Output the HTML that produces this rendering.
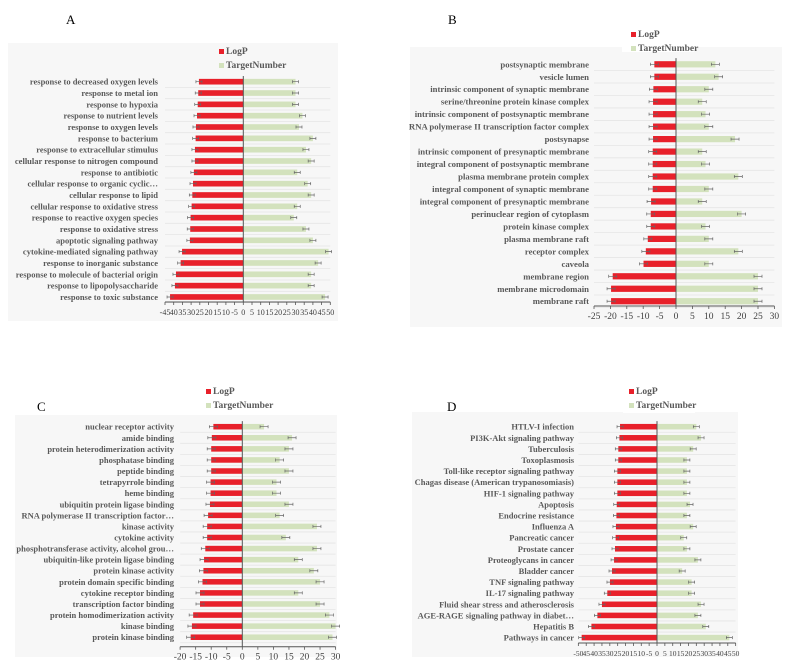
<!DOCTYPE html>
<html><head><meta charset="utf-8">
<style>
html,body{margin:0;padding:0;background:#fff;}
svg{display:block;font-family:"Liberation Serif",serif;}
</style></head>
<body>
<svg id="fig" width="789" height="670" viewBox="0 0 789 670" xmlns="http://www.w3.org/2000/svg"></svg>
<script>
const catsA=["response to decreased oxygen levels","response to metal ion","response to hypoxia","response to nutrient levels","response to oxygen levels","response to bacterium","response to extracellular stimulus","cellular response to nitrogen compound","response to antibiotic","cellular response to organic cyclic…","cellular response to lipid","cellular response to oxidative stress","response to reactive oxygen species","response to oxidative stress","apoptotic signaling pathway","cytokine-mediated signaling pathway","response to inorganic substance","response to molecule of bacterial origin","response to lipopolysaccharide","response to toxic substance"];
const logpA=[-25.5,-25.9,-26.2,-26.6,-27.2,-27.4,-27.8,-27.8,-28.4,-28.9,-29.3,-29.7,-30.3,-30.5,-30.7,-35.2,-36.0,-38.7,-39.3,-42.1];
const targetA=[30,30,30,34,32,40,36,39,31,37,39,31,29,36,40,49,43,39,39,47];
const ticksA=[-45,-40,-35,-30,-25,-20,-15,-10,-5,0,5,10,15,20,25,30,35,40,45,50];
const tickLabelsA=["-45","40","35","30","25","20","15","10","-5","0","5","10","15","20","25","30","35","40","45","50"];

const catsB=["postsynaptic membrane","vesicle lumen","intrinsic component of synaptic membrane","serine/threonine protein kinase complex","intrinsic component of postsynaptic membrane","RNA polymerase II transcription factor complex","postsynapse","intrinsic component of presynaptic membrane","integral component of postsynaptic membrane","plasma membrane protein complex","integral component of synaptic membrane","integral component of presynaptic membrane","perinuclear region of cytoplasm","protein kinase complex","plasma membrane raft","receptor complex","caveola","membrane region","membrane microdomain","membrane raft"];
const logpB=[-6.6,-6.6,-6.9,-7.0,-7.0,-7.0,-7.0,-7.1,-7.1,-7.1,-7.1,-7.6,-7.7,-7.7,-8.6,-9.2,-9.9,-19.3,-19.8,-19.8];
const targetB=[12,13,10,8,9,10,18,8,9,19,10,8,20,9,10,19,10,25,25,25];
const ticksB=[-25,-20,-15,-10,-5,0,5,10,15,20,25,30];
const tickLabelsB=["-25","-20","-15","-10","-5","0","5","10","15","20","25","30"];

const catsC=["nuclear receptor activity","amide binding","protein heterodimerization activity","phosphatase binding","peptide binding","tetrapyrrole binding","heme binding","ubiquitin protein ligase binding","RNA polymerase II transcription factor…","kinase activity","cytokine activity","phosphotransferase activity, alcohol grou…","ubiquitin-like protein ligase binding","protein kinase activity","protein domain specific binding","cytokine receptor binding","transcription factor binding","protein homodimerization activity","kinase binding","protein kinase binding"];
const logpC=[-9.3,-9.8,-10.0,-10.0,-10.0,-10.2,-10.2,-10.4,-11.0,-11.3,-11.3,-11.9,-12.3,-12.5,-12.8,-13.6,-13.6,-15.8,-16.2,-16.6];
const targetC=[7,16,15,12,15,11,11,15,12,24,14,24,18,23,25,18,25,28,30,29];
const ticksC=[-20,-15,-10,-5,0,5,10,15,20,25,30];
const tickLabelsC=["-20","-15","-10","-5","0","5","10","15","20","25","30"];

const catsD=["HTLV-I infection","PI3K-Akt signaling pathway","Tuberculosis","Toxoplasmosis","Toll-like receptor signaling pathway","Chagas disease (American trypanosomiasis)","HIF-1 signaling pathway","Apoptosis","Endocrine resistance","Influenza A","Pancreatic cancer","Prostate cancer","Proteoglycans in cancer","Bladder cancer","TNF signaling pathway","IL-17 signaling pathway","Fluid shear stress and atherosclerosis","AGE-RAGE signaling pathway in diabet…","Hepatitis B","Pathways in cancer"];
const logpD=[-23.5,-23.9,-24.6,-24.6,-25.2,-25.2,-25.2,-25.6,-25.8,-26.1,-26.3,-26.7,-27.3,-28.6,-29.9,-31.6,-35.0,-37.9,-41.7,-47.9];
const targetD=[25,28,23,19,19,19,19,21,19,23,17,19,26,16,22,22,28,26,31,46];
const ticksD=[-50,-45,-40,-35,-30,-25,-20,-15,-10,-5,0,5,10,15,20,25,30,35,40,45,50];
const tickLabelsD=["-50","45","40","35","30","25","20","15","10","-5","0","5","10","15","20","25","30","35","40","45","50"];

const NS="http://www.w3.org/2000/svg";
const svg=document.getElementById('fig');
function mk(tag,attrs,parent,txt){const e=document.createElementNS(NS,tag);for(const k in attrs)e.setAttribute(k,attrs[k]);if(txt!==undefined)e.textContent=txt;(parent||svg).appendChild(e);return e;}

function panel(o){
  const g=mk('g',{});
  
  
  const bg=mk('rect',{x:o.bg[0],y:o.bg[1],width:o.bg[2],height:o.bg[3],fill:'#f7f7f7'},g);
  
  
  const pl=mk('text',{x:o.letter[0],y:o.letter[1],'font-size':13,fill:'#000'},g,o.id);
  
  
  const x=v=>o.zero+v*o.scale;
  const y=i=>o.row0+i*o.step;
  const xmin=x(o.ticks[0]), xmax=x(o.ticks[o.ticks.length-1]);
  // legend
  const lg=mk('g',{},g);
  
  
  if(o.legBox){mk('rect',{x:o.legBox[0],y:o.legBox[1],width:o.legBox[2],height:o.legBox[3],fill:'#fff'},lg);}
  const l1=mk('rect',{x:o.leg[0],y:o.leg[1]-5,width:5,height:5,fill:'#e8202a'},lg);
  
  
  const t1=mk('text',{x:o.leg[0]+7,y:o.leg[1],'font-size':9.5,'font-weight':'bold',fill:'#595959'},lg,'LogP');
  
  
  const l2=mk('rect',{x:o.leg[0],y:o.leg[1]+9,width:5,height:5,fill:'#d3e2bd'},lg);
  
  
  const t2=mk('text',{x:o.leg[0]+7,y:o.leg[1]+14,'font-size':9.5,'font-weight':'bold',fill:'#595959'},lg,'TargetNumber');
  
  
  const bh=o.step*0.5;
  o.cats.forEach((c,i)=>{
    const yy=y(i);
    mk('line',{x1:xmin,x2:xmax,y1:yy+o.step/2,y2:yy+o.step/2,stroke:'#e6e6e6','stroke-width':0.8},g);
    const lab=mk('text',{x:o.labX,y:yy+3,'text-anchor':'end','font-size':o.fs,'font-weight':'bold',fill:'#595959'},g,c);
    
    
    const r=mk('rect',{x:x(o.logp[i]),y:yy-bh/2,width:x(0)-x(o.logp[i]),height:bh,fill:'#e8202a'},g);
    
    
    const gr=mk('rect',{x:x(0),y:yy-bh/2,width:x(o.target[i])-x(0),height:bh,fill:'#d3e2bd'},g);
    
    
    [x(o.logp[i]),x(o.target[i])].forEach(ex=>{
      const eb=mk('path',{d:`M${ex-o.err},${yy}H${ex+o.err}M${ex-o.err},${yy-1.5}V${yy+1.5}M${ex+o.err},${yy-1.5}V${yy+1.5}`,stroke:'#666','stroke-width':0.7,fill:'none'},g);
      
      
    });
  });
  const za=mk('line',{x1:x(0),x2:x(0),y1:y(0)-o.step/2,y2:o.axisY,stroke:'#555','stroke-width':1},g);
  
  
  const ax=mk('line',{x1:xmin,x2:xmax,y1:o.axisY,y2:o.axisY,stroke:'#555','stroke-width':1},g);
  
  
  o.ticks.forEach((t,k)=>{
    mk('line',{x1:x(t),x2:x(t),y1:o.axisY,y2:o.axisY+3,stroke:'#555','stroke-width':0.8},g);
    const tl=mk('text',{x:x(t),y:o.axisY+13,'text-anchor':'middle','font-size':o.tfs,fill:'#404040'},g,o.tickLabels[k]);
    
    
  });
}
panel({id:'A',cats:catsA,logp:logpA,target:targetA,ticks:ticksA,tickLabels:tickLabelsA,zero:243.3,scale:1.74,row0:81.7,step:11.33,labX:158,fs:8.5,tfs:8,axisY:302,bg:[8,43,330,278],letter:[66,24],leg:[219,54],err:3});
panel({id:'B',cats:catsB,logp:logpB,target:targetB,ticks:ticksB,tickLabels:tickLabelsB,zero:676,scale:3.28,row0:64.3,step:12.47,labX:589,fs:8.7,tfs:9.5,axisY:306,bg:[410,47,372,280],letter:[448,24],leg:[631,37],legBox:[622,28,72,24],err:4});
panel({id:'C',cats:catsC,logp:logpC,target:targetC,ticks:ticksC,tickLabels:tickLabelsC,zero:242.3,scale:3.11,row0:426.7,step:11.08,labX:174,fs:8.5,tfs:9.5,axisY:646.7,bg:[15,415,322,242],letter:[37,411],leg:[206,394],legBox:[200,385,72,28],err:4});
panel({id:'D',cats:catsD,logp:logpD,target:targetD,ticks:ticksD,tickLabels:tickLabelsD,zero:657,scale:1.573,row0:426.7,step:11.1,labX:574,fs:8.5,tfs:7.5,axisY:643,bg:[412,412,326,245],letter:[447,411],leg:[629,394],legBox:[623,385,72,28],err:3});
</script>
</body></html>
